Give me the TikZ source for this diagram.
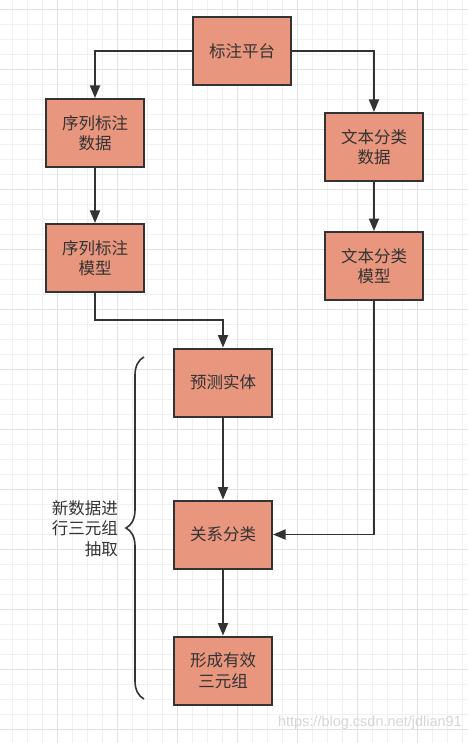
\documentclass[tikz,border=0pt]{standalone}
\usepackage{fontspec}
\newfontfamily\cjk{Noto Sans CJK SC}
\newfontfamily\wmfont{Liberation Sans}
\usetikzlibrary{arrows.meta,decorations.pathreplacing}
\definecolor{boxfill}{RGB}{232,150,126}
\definecolor{linegray}{RGB}{51,51,51}
\definecolor{gridminor}{RGB}{240,240,240}
\definecolor{gridmajor}{RGB}{226,226,226}
\tikzset{
	stepbox/.style={draw=linegray, line width=2pt, fill=boxfill, minimum width=98pt, minimum height=68pt, inner sep=0pt, align=center, text=linegray, font=\cjk\fontsize{16.5}{20.5}\selectfont},
	flow/.style={draw=linegray, line width=1.8pt, -{Triangle[length=12.5pt,width=10pt]}},
}

\begin{document}
\begin{tikzpicture}[x=1pt,y=-1pt]

% paper
\fill[white] (0,0) rectangle (468,743);
\useasboundingbox (0,0) rectangle (468,743);
\foreach \i in {0,...,30} \draw[gridminor, line width=1pt] ({12.3+15*\i},0)--({12.3+15*\i},743);
\foreach \i in {0,...,48} \draw[gridminor, line width=1pt] (0,{9.3+15*\i})--(468,{9.3+15*\i});
\foreach \i in {0,...,6} \draw[gridmajor, line width=1pt] ({57.3+60*\i},0)--({57.3+60*\i},743);
\foreach \i in {0,...,12} \draw[gridmajor, line width=1pt] (0,{9.3+60*\i})--(468,{9.3+60*\i});

% boxes
\node[stepbox] (plat) at (242,51) {标注平台};
\node[stepbox] (seqdata) at (95,133) {序列标注\\数据};
\node[stepbox] (seqmodel) at (95,258) {序列标注\\模型};
\node[stepbox] (txtdata) at (374,147) {文本分类\\数据};
\node[stepbox] (txtmodel) at (374,266) {文本分类\\模型};
\node[stepbox] (ent) at (223,382.5) {预测实体};
\node[stepbox] (rel) at (223,534.5) {关系分类};
\node[stepbox] (tri) at (223,670.5) {形成有效\\三元组};

% arrows
\draw[flow] (plat) -| (seqdata);
\draw[flow] (plat) -| (txtdata);
\draw[flow] (seqdata) -- (seqmodel);
\draw[flow] (txtdata) -- (txtmodel);
\draw[flow] (seqmodel.south) -- ++(0,27) -| (ent.north);
\draw[flow] (ent) -- (rel);
\draw[flow] (rel) -- (tri);
\draw[flow] (txtmodel) |- (rel);

% brace
\coordinate (bracelow) at (144,699);
\coordinate (bracehigh) at (144,357);
\draw[linegray, line width=1.6pt, decorate, decoration={brace, amplitude=18pt}] (bracelow) -- (bracehigh);
\node[anchor=east, align=right, inner sep=0pt, text=linegray, font=\cjk\fontsize{16.5}{20.5}\selectfont] (bracelabel) at (118,528.5) {新数据进\\行三元组\\抽取};

% watermark
\node[anchor=east, inner sep=0pt, text=black!16, font=\wmfont\fontsize{14.5}{16}\selectfont] (mark) at (462,723) {https://blog.csdn.net/jdlian91};

\end{tikzpicture}
\end{document}
